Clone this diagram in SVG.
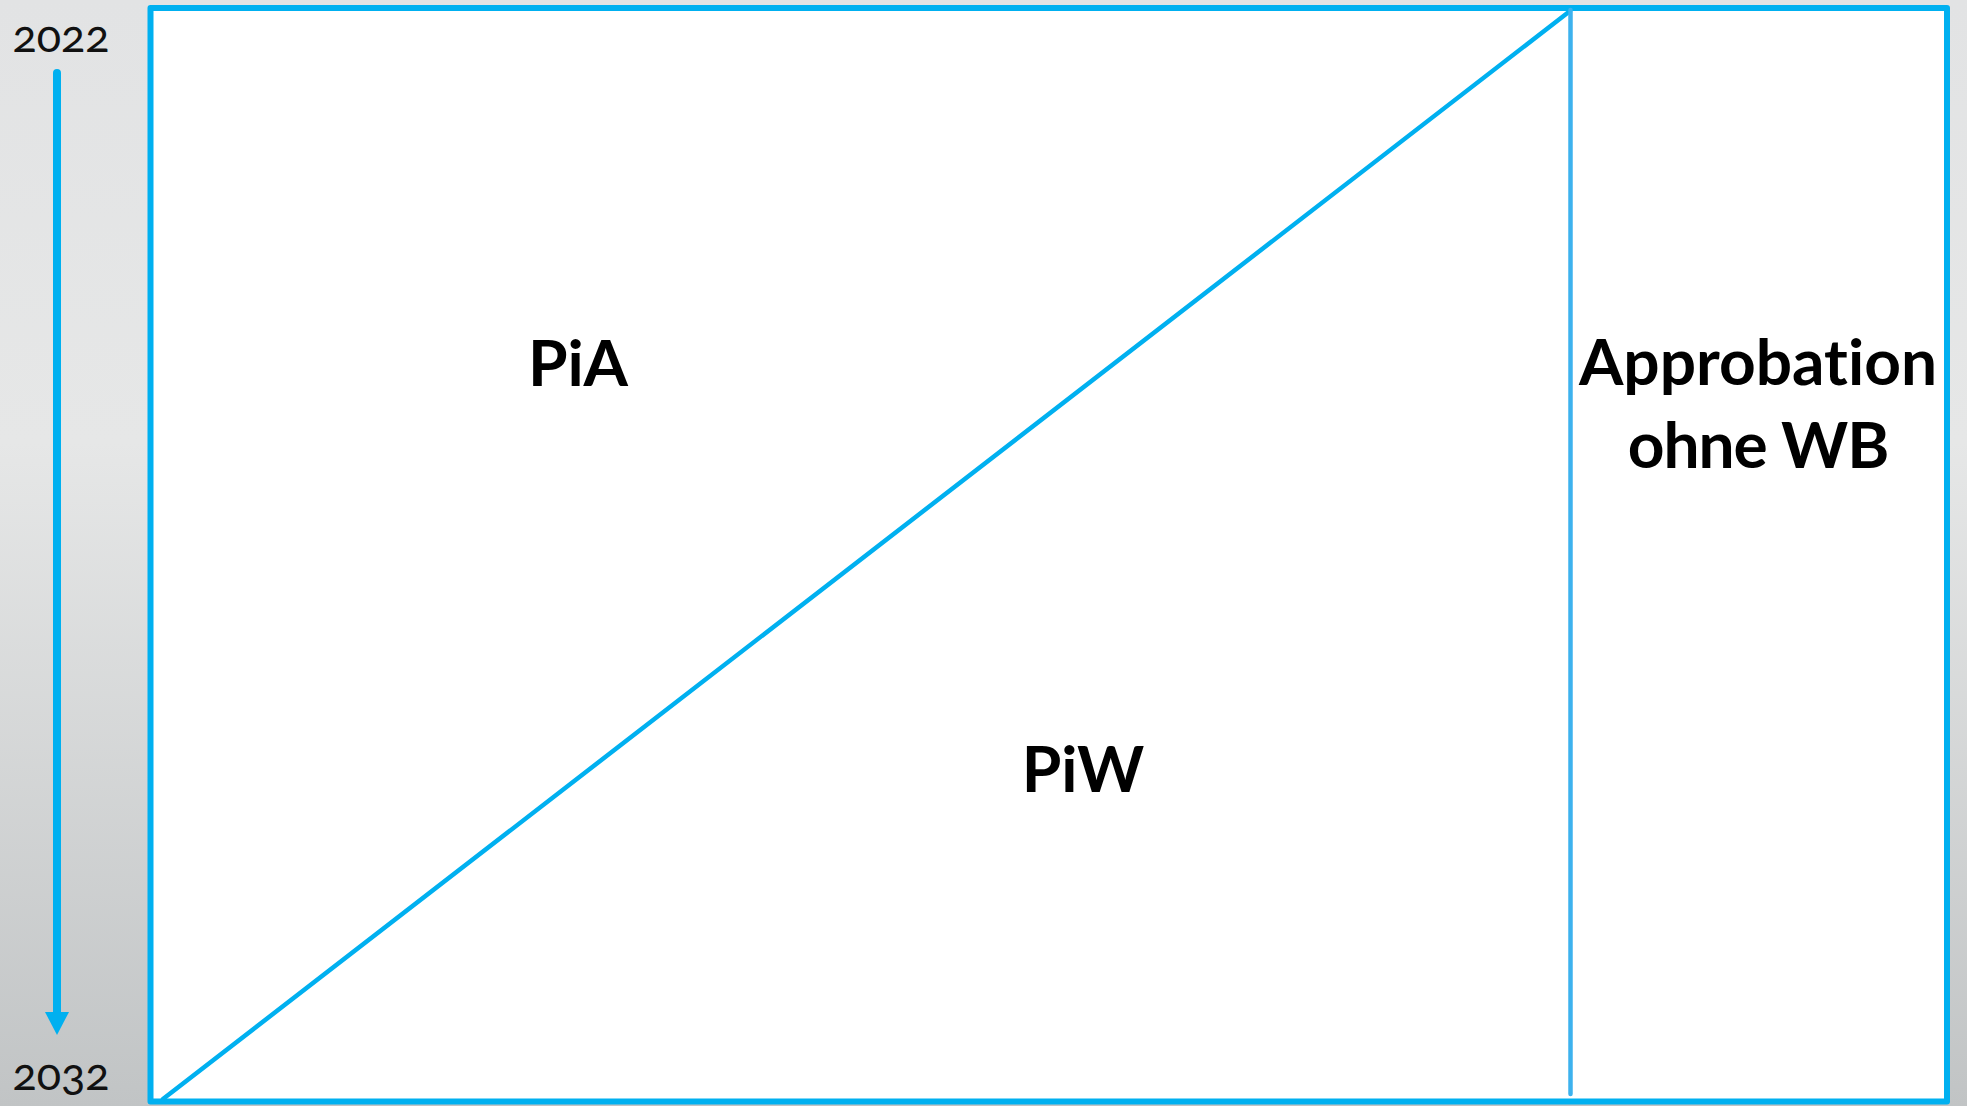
<svg xmlns="http://www.w3.org/2000/svg" width="1967" height="1106" viewBox="0 0 1967 1106">
  <style>
    .year { font-family: Lato, "Liberation Sans", sans-serif; font-size: 45px; font-variant-numeric: oldstyle-nums; fill: #111; text-anchor: middle; }
    .label { font-family: Lato, "Open Sans", "Liberation Sans", sans-serif; font-weight: bold; font-size: 64px; fill: #000; text-anchor: middle; font-variant-ligatures: none; }
    .frame { fill: #ffffff; stroke: #00b0f0; stroke-width: 6; stroke-linejoin: round; }
    .edge { stroke: #00b0f0; stroke-width: 4.5; fill: none; stroke-linecap: round; }
    .timeline { stroke: #00b0f0; stroke-width: 8; fill: none; stroke-linecap: round; }
    .divider { stroke: #3db2ee; stroke-width: 4.5; fill: none; stroke-linecap: round; }
  </style>
  <defs>
    <linearGradient id="bg" x1="0" y1="0" x2="0" y2="1">
      <stop offset="0" stop-color="#e2e3e4"/>
      <stop offset="0.4" stop-color="#e6e7e7"/>
      <stop offset="1" stop-color="#c1c4c5"/>
    </linearGradient>
  </defs>

  <!-- background -->
  <rect x="0" y="0" width="1967" height="1106" fill="url(#bg)"/>

  <!-- main frame -->
  <g id="frame">
    <rect class="frame" x="150.5" y="8" width="1796.5" height="1093.5"/>
  </g>

  <!-- connectors: timeline arrow, diagonal split, divider -->
  <g id="connectors">
    <line class="timeline" x1="57" y1="73" x2="57" y2="1014"/>
    <polygon points="45,1012 69,1012 57,1035" fill="#00b0f0"/>
    <line class="edge" x1="1570" y1="11" x2="163" y2="1099"/>
    <line class="divider" x1="1570.5" y1="10" x2="1570.5" y2="1094"/>
  </g>

  <!-- timeline years -->
  <g id="year-start">
    <text class="year" x="61" y="52">2022</text>
  </g>
  <g id="year-end">
    <text class="year" x="61" y="1090">2032</text>
  </g>

  <!-- region labels -->
  <g id="pia">
    <text class="label" x="578" y="386">PiA</text>
  </g>
  <g id="piw">
    <text class="label" x="1083" y="792">PiW</text>
  </g>
  <g id="approbation">
    <text class="label" x="1758" y="385">Approbation</text>
    <text class="label" x="1758" y="468" letter-spacing="-1">ohne WB</text>
  </g>
</svg>
